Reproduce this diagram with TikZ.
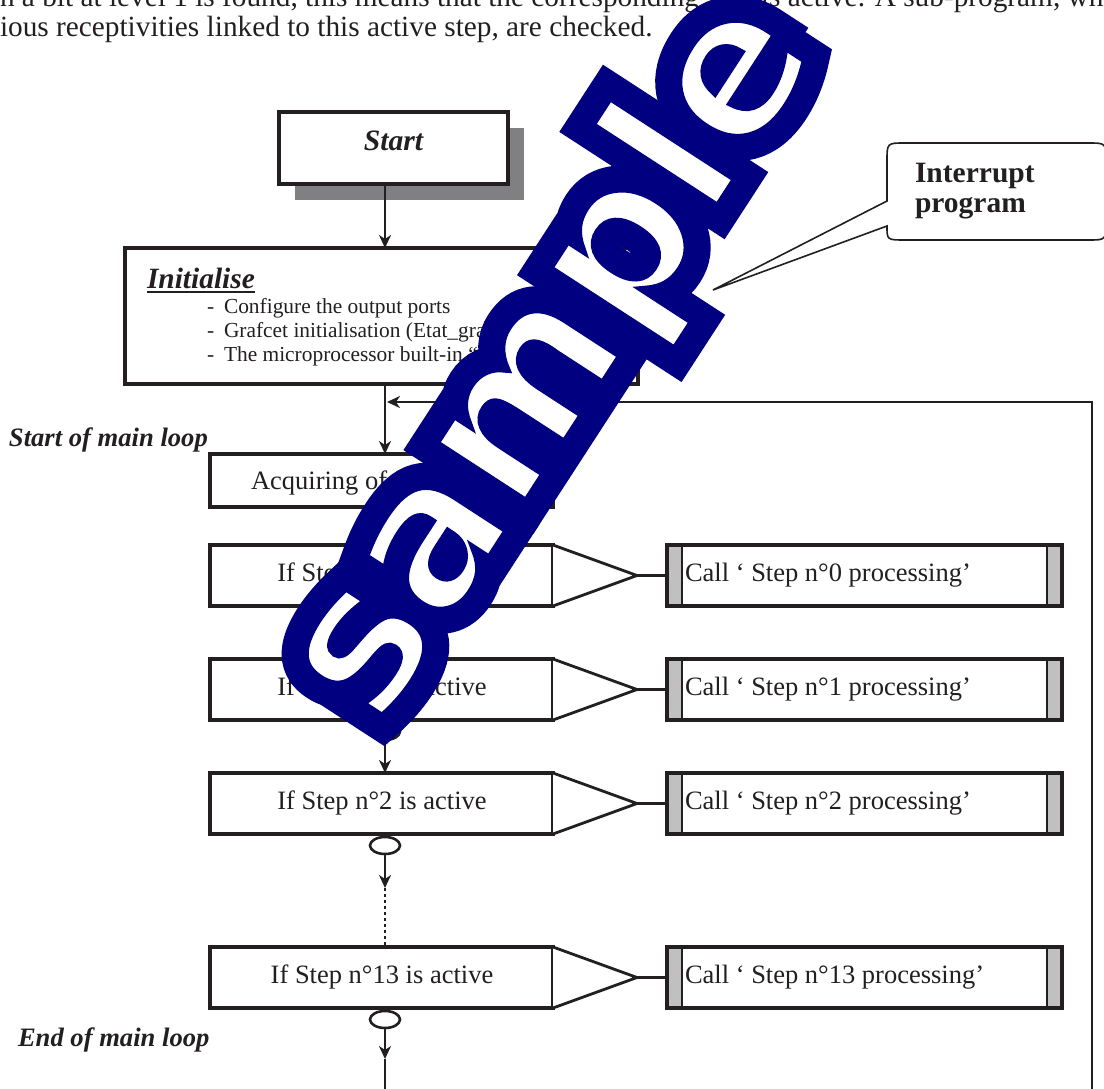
\documentclass[tikz,border=0pt]{standalone}
\usepackage{fontspec}
\setmainfont{Liberation Serif}
\newfontfamily\wmfont{DejaVu Sans}
\usetikzlibrary{arrows.meta,calc,shapes.geometric}

\definecolor{ink}{RGB}{35,31,32}
\definecolor{wmnavy}{RGB}{0,0,128}
\definecolor{shadowgray}{RGB}{128,128,131}
\definecolor{bargray}{RGB}{192,192,192}

% glyph painting modes for the big overlay word:
% a wide navy stroke, a white fill, then a thin navy stroke
\newcommand\wordstroke[2]{\special{pdf:literal direct 0 0 0.502 RG #1 w 0 j 1 Tr}#2\special{pdf:literal direct 0 Tr}}

\begin{document}
\begin{tikzpicture}[x=1pt,y=-1pt,line join=miter,
  every node/.style={inner sep=0pt,outer sep=0pt,text=ink},
  frame/.style={draw=ink,line width=3.2pt,fill=white},
  wire/.style={draw=ink,line width=2.8pt},
  flow/.style={wire,-{Stealth[length=13pt,width=12pt,inset=4pt]}},
  oval/.style={draw=ink,line width=2.6pt,ellipse,minimum width=30pt,minimum height=17pt,fill=white},
  bodytext/.style={anchor=base west,font=\fontsize{29.3}{34}\selectfont},
  rowtext/.style={font=\fontsize{26.5}{30}\selectfont},
  listtext/.style={anchor=base west,font=\fontsize{21.4}{24}\selectfont},
  looptext/.style={anchor=base west,font=\fontsize{26.6}{30}\selectfont\bfseries\itshape},
  bigword/.style={rotate=57,anchor=base west,font=\wmfont\bfseries\fontsize{200}{200}\selectfont},
]
\useasboundingbox (0,0) rectangle (1104,1089);
\clip (0,0) rectangle (1104,1089);

% running text above the chart
\node[bodytext] (para1) at (0,7) {n a bit at level 1 is found, this means that the corresponding step is active. A sub-program, which};
\node[bodytext] (para2) at (0,37) {ious receptivities linked to this active step, are checked.};

% spine of the flow chart
\coordinate (spine) at (385,0);

% Start block with its drop shadow
\node[fill=shadowgray,minimum width=229pt,minimum height=72pt] (startshadow) at (409.5,164) {};
\node[frame,minimum width=229pt,minimum height=72pt] (start) at (393.5,148) {};
\node[anchor=base,font=\fontsize{29.6}{32}\selectfont\bfseries\itshape] (starttext) at (393.5,151) {Start};

% initialisation block
\node[frame,minimum width=513pt,minimum height=136pt] (init) at (381.5,316) {};
\node[anchor=base west,font=\fontsize{29.4}{32}\selectfont\bfseries\itshape] (inittitle) at (147,288) {Initialise};
\draw[ink,line width=1.8pt] ($(inittitle.base west)+(0,4)$) -- ($(inittitle.base east)+(0,4)$);
\node[listtext] (dash1) at (207,313) {-};
\node[listtext] (item1) at (224,313) {Configure the output ports};
\node[listtext] (dash2) at (207,337) {-};
\node[listtext] (item2) at (224,337) {Grafcet initialisation (Etat\_grafcet outputs)};
\node[listtext] (dash3) at (207,361) {-};
\node[listtext] (item3) at (224,361) {The microprocessor built-in “ Timer “};

\draw[flow] (start.south -| spine) -- (init.north -| spine);

% interrupt call-out
\coordinate (callouttip) at (713,290);
\draw[draw=ink,line width=1.6pt,fill=white]
  (887,201) -- (887,161) .. controls (887,143) .. (905,143) -- (1088,143)
  .. controls (1106,143) .. (1106,161) -- (1106,222) .. controls (1106,240) .. (1088,240)
  -- (905,240) .. controls (887,240) .. (887,226) -- (callouttip) -- cycle;
\node[anchor=base west,font=\fontsize{29.5}{30}\selectfont\bfseries] (irq1) at (915,183) {Interrupt};
\node[anchor=base west,font=\fontsize{29.5}{30}\selectfont\bfseries] (irq2) at (915,213) {program};

% input acquisition
\node[frame,minimum width=343pt,minimum height=53pt] (acq) at (381.5,480.5) {};
\node[anchor=base west,rowtext] (acqtext) at (251,489) {Acquiring of inputs};
\draw[flow] (init.south -| spine) -- (acq.north -| spine);

% main loop return path
\coordinate (loopfoot) at (1092,1096);
\coordinate (loopcorner) at (1092,402);
\coordinate (loopjoin) at (387,402);
\draw[flow] (loopfoot) -- (loopcorner) -- (loopjoin);

\node[looptext] (loopstart) at (9,446) {Start of main loop};
\node[looptext] (loopend) at (18,1046) {End of main loop};

% one row per Grafcet step: test, branch and call
\foreach \k/\T in {0/545,1/659,2/773,13/947}{
  \node[frame,minimum width=343pt,minimum height=61pt] (step\k) at (381.5,\T+30.5) {};
  \node[anchor=base,rowtext] (steptext\k) at (382,\T+36) {If Step n°\k\ is active};
  \coordinate (tip\k) at (637,\T+30.5);
  \draw[wire,fill=white] (step\k.north east) -- (tip\k) -- (step\k.south east);
  \node[frame,minimum width=395pt,minimum height=61pt] (call\k) at (864.5,\T+30.5) {};
  \fill[bargray] ($(call\k.north west)+(1.6,1.6)$) rectangle ($(call\k.south west)+(15,-1.6)$);
  \fill[bargray] ($(call\k.north east)+(-15,1.6)$) rectangle ($(call\k.south east)+(-1.6,-1.6)$);
  \draw[ink,line width=1.5pt] ($(call\k.north west)+(15,0)$) -- ($(call\k.south west)+(15,0)$);
  \draw[ink,line width=1.5pt] ($(call\k.north east)+(-15,0)$) -- ($(call\k.south east)+(-15,0)$);
  \draw[ink,line width=3.2pt] (call\k.north west) rectangle (call\k.south east);
  \node[anchor=base west,rowtext] (calltext\k) at (685,\T+36) {Call ‘ Step n°\k\ processing’};
  \draw[wire] (tip\k) -- (call\k.west);
  \node[oval] (oval\k) at (385,\T+72.5) {};
}

% vertical links between the rows
\coordinate (gapend) at (385,888);
\coordinate (exitarrow) at (385,1059);
\coordinate (exitfoot) at (385,1096);
\draw[flow] (acq.south -| spine) -- (step0.north -| spine);
\draw[flow] (oval0.south) -- (step1.north -| oval0.south);
\draw[flow] (oval1.south) -- (step2.north -| oval1.south);
\draw[flow] (oval2.south) -- (gapend);
\draw[wire,dash pattern=on 3pt off 3pt] (gapend) -- (step13.north -| gapend);
\draw[flow] (oval13.south) -- (exitarrow);
\draw[wire] (exitarrow) -- (exitfoot);

% overlay word, painted in three passes
\coordinate (wordbase) at (379,730);
\node[bigword,text=wmnavy] (wordouter) at (wordbase) {\wordstroke{45}{sample}};
\node[bigword,text=white] (wordfill) at (wordbase) {sample};
\node[bigword,text=wmnavy] (wordinner) at (wordbase) {\wordstroke{9}{sample}};
\end{tikzpicture}
\end{document}
